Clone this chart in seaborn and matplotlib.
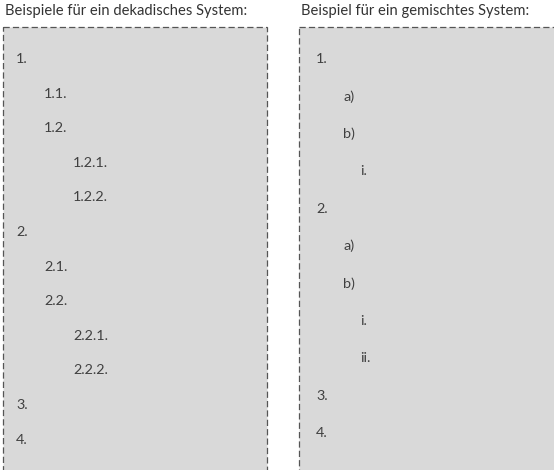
import matplotlib
matplotlib.use("Agg")
import matplotlib.pyplot as plt
from matplotlib.patches import Rectangle
import seaborn as sns

sns.set_theme(style="white")
plt.rcParams['font.family'] = ['Lato', 'DejaVu Sans']

# Data
left_title = "Beispiele für ein dekadisches System:"
right_title = "Beispiel für ein gemischtes System:"
left_labels = ["1.", "1.1.", "1.2.", "1.2.1.", "1.2.2.", "2.", "2.1.", "2.2.",
               "2.2.1.", "2.2.2.", "3.", "4."]
left_levels = [0, 1, 1, 2, 2, 0, 1, 1, 2, 2, 0, 0]
right_labels = ["1.", "a)", "b)", "i.", "2.", "a)", "b)", "i.", "ii.", "3.", "4."]
right_levels = [0, 1, 1, 2, 0, 1, 1, 2, 2, 0, 0]

W, H = 554, 470
fig = plt.figure(figsize=(W / 100, H / 100), dpi=100)
ax = fig.add_axes([0, 0, 1, 1])
ax.set_xlim(0, W)
ax.set_ylim(H, 0)
ax.axis("off")

box_fill = "#D9D9D9"
edge = "#555555"
text_col = "#404040"

# boxes
panels = [
    dict(x0=3, x1=267, title=left_title, labels=left_labels, levels=left_levels,
         indent=[16, 44, 73], first=59, step=34.6),
    dict(x0=299, x1=560, title=right_title, labels=right_labels, levels=right_levels,
         indent=[316, 343, 360], first=59, step=37.4),
]
for p in panels:
    r = Rectangle((p["x0"], 27), p["x1"] - p["x0"], 460, facecolor=box_fill,
                  edgecolor=edge, linewidth=0.9, linestyle=(0, (5, 2.5)))
    ax.add_patch(r)
    ax.text(p["x0"] + 2, 11, p["title"], fontsize=10.6, color="#333333",
            va="center", ha="left")
    for i, (lab, lev) in enumerate(zip(p["labels"], p["levels"])):
        ax.text(p["indent"][lev], p["first"] + i * p["step"], lab, fontsize=10.4,
                color=text_col, va="center", ha="left")

fig.savefig("out.png", dpi=100)
